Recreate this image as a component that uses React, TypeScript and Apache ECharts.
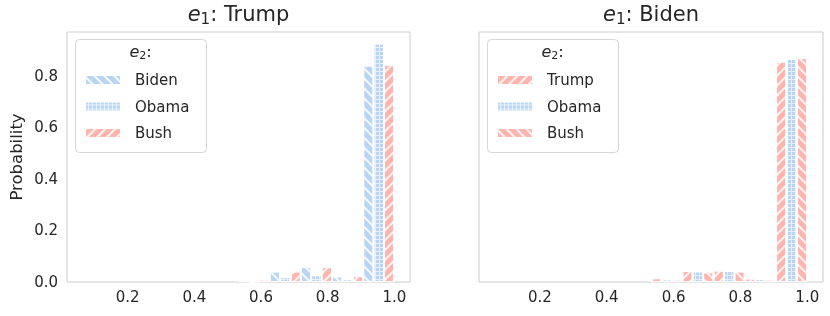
import React, { useEffect, useRef } from 'react';
import * as echarts from 'echarts';

// ---- data ----
const binStarts = [0.5325, 0.626, 0.7195, 0.813, 0.9065];
const binWidth = 0.0935;
const xTicks = [0.2, 0.4, 0.6, 0.8, 1.0];
const yTicks = [0.0, 0.2, 0.4, 0.6, 0.8];

// e1: Trump
const trumpVsBiden = [0.009, 0.041, 0.058, 0.022, 0.84];
const trumpVsObama = [0.0, 0.019, 0.026, 0.01, 0.925];
const trumpVsBush = [0.01, 0.041, 0.058, 0.023, 0.843];
// e1: Biden
const bidenVsTrump = [0.015, 0.043, 0.045, 0.014, 0.855];
const bidenVsObama = [0.01, 0.041, 0.043, 0.011, 0.865];
const bidenVsBush = [0.01, 0.038, 0.041, 0.01, 0.869];

const BLUE = '#b9d5f4';
const GRIDBASE = '#e6f0fc';
const PINK = '#ffb4ae';
const TEXT = '#262626';
const FONT = 'DejaVu Sans';

// rotation +PI/4 -> "\\" stripes, -PI/4 -> "//" stripes
const BACK = 1;
const FWD = -1;
const hatch = (dir: number) => ({
  symbol: 'rect',
  symbolSize: 1,
  color: 'rgba(255,255,255,0.85)',
  dashArrayX: [1, 0],
  dashArrayY: [2, 5],
  rotation: (dir * Math.PI) / 4,
});
const gridDecal = {
  symbol: 'rect',
  symbolSize: 1,
  symbolKeepAspect: false,
  color: BLUE,
  dashArrayX: [3, 1],
  dashArrayY: [3, 1],
  rotation: 0,
};

function pairs(k: number, vals: number[]) {
  return vals.map((v, i) => [binStarts[i] + ((k + 0.5) * binWidth) / 3, v]);
}

function bar(name: string, ax: number, k: number, vals: number[], color: string, decal: any) {
  return {
    type: 'bar',
    name,
    xAxisIndex: ax,
    yAxisIndex: ax,
    data: pairs(k, vals),
    barWidth: 10.4,
    barGap: '-100%',
    silent: true,
    itemStyle: { color, borderColor: '#ffffff', borderWidth: 1, decal },
  };
}

function xAxis(gridIndex: number) {
  return {
    type: 'value',
    gridIndex,
    min: 0.018,
    max: 1.047,
    axisLine: { show: false },
    axisTick: { show: false },
    splitLine: { show: false },
    axisLabel: {
      customValues: xTicks,
      formatter: (v: number) => v.toFixed(1),
      fontSize: 15,
      color: TEXT,
      fontFamily: FONT,
      margin: 7,
    },
  };
}

function yAxis(gridIndex: number, showLabels: boolean) {
  return {
    type: 'value',
    gridIndex,
    min: 0,
    max: 0.97,
    axisLine: { show: false },
    axisTick: { show: false },
    splitLine: { show: false },
    name: showLabels ? 'Probability' : '',
    nameLocation: 'middle',
    nameGap: 42,
    nameTextStyle: { fontSize: 16.5, color: TEXT, fontFamily: FONT },
    axisLabel: {
      show: showLabels,
      customValues: yTicks,
      formatter: (v: number) => v.toFixed(1),
      fontSize: 15,
      color: TEXT,
      fontFamily: FONT,
      margin: 9,
    },
  };
}

function legend(left: number, names: string[]) {
  return {
    left,
    top: 72,
    orient: 'vertical',
    padding: 0,
    itemWidth: 36,
    itemHeight: 10,
    itemGap: 10.5,
    icon: 'rect',
    selectedMode: false,
    data: names,
    formatter: (n: string) => n.split('|')[0],
    textStyle: { fontSize: 15, color: TEXT, fontFamily: FONT, lineHeight: 16, padding: [0, 0, 0, 9] },
  };
}

function titleText(x: number, y: number, sub: string, rest: string, size: number) {
  return {
    type: 'text',
    x,
    y,
    z: 10,
    style: {
      text: `{i|e}{s|${sub}}{n|${rest}}`,
      align: 'center',
      verticalAlign: 'middle',
      rich: {
        i: { fontStyle: 'italic', fontSize: size, fontFamily: FONT, fill: TEXT, lineHeight: size + 4 },
        s: { fontSize: Math.round(size * 0.7), fontFamily: FONT, fill: TEXT, lineHeight: Math.round(size * 0.7), verticalAlign: 'bottom' },
        n: { fontSize: size, fontFamily: FONT, fill: TEXT, lineHeight: size + 4 },
      },
    },
  };
}

function legendBox(x: number) {
  return {
    type: 'rect',
    z: 1,
    shape: { x: x + 0.5, y: 39.5, width: 131, height: 113, r: 4 },
    style: { fill: 'rgba(255,255,255,0.8)', stroke: '#d6d6d6', lineWidth: 1 },
  };
}

export default function App() {
  const ref = useRef<HTMLDivElement>(null);
  useEffect(() => {
    if (!ref.current) return;
    const chart = echarts.init(ref.current, null, { renderer: 'svg' });
    chart.setOption({
      animation: false,
      textStyle: { fontFamily: FONT },
      grid: [
        { left: 67, top: 32, width: 343, height: 250, show: true, borderColor: '#cccccc', borderWidth: 1, backgroundColor: '#fff' },
        { left: 479, top: 32, width: 344, height: 250, show: true, borderColor: '#cccccc', borderWidth: 1, backgroundColor: '#fff' },
      ],
      xAxis: [xAxis(0), xAxis(1)],
      yAxis: [yAxis(0, true), yAxis(1, false)],
      legend: [legend(84, ['Biden', 'Obama', 'Bush']), legend(496, ['Trump', 'Obama|R', 'Bush|R'])],
      graphic: [
        titleText(238.5, 14, '1', ': Trump', 21),
        titleText(651, 14, '1', ': Biden', 21),
        legendBox(75),
        legendBox(487),
        titleText(140.5, 51, '2', ':', 16),
        titleText(552.5, 51, '2', ':', 16),
      ],
      series: [
        bar('Biden', 0, 0, trumpVsBiden, BLUE, hatch(BACK)),
        bar('Obama', 0, 1, trumpVsObama, GRIDBASE, gridDecal),
        bar('Bush', 0, 2, trumpVsBush, PINK, hatch(FWD)),
        bar('Trump', 1, 0, bidenVsTrump, PINK, hatch(FWD)),
        bar('Obama|R', 1, 1, bidenVsObama, GRIDBASE, gridDecal),
        bar('Bush|R', 1, 2, bidenVsBush, PINK, hatch(BACK)),
      ],
    });
    return () => chart.dispose();
  }, []);
  return <div ref={ref} style={{ position: 'fixed', left: 0, top: 0, width: 830, height: 316 }} />;
}
